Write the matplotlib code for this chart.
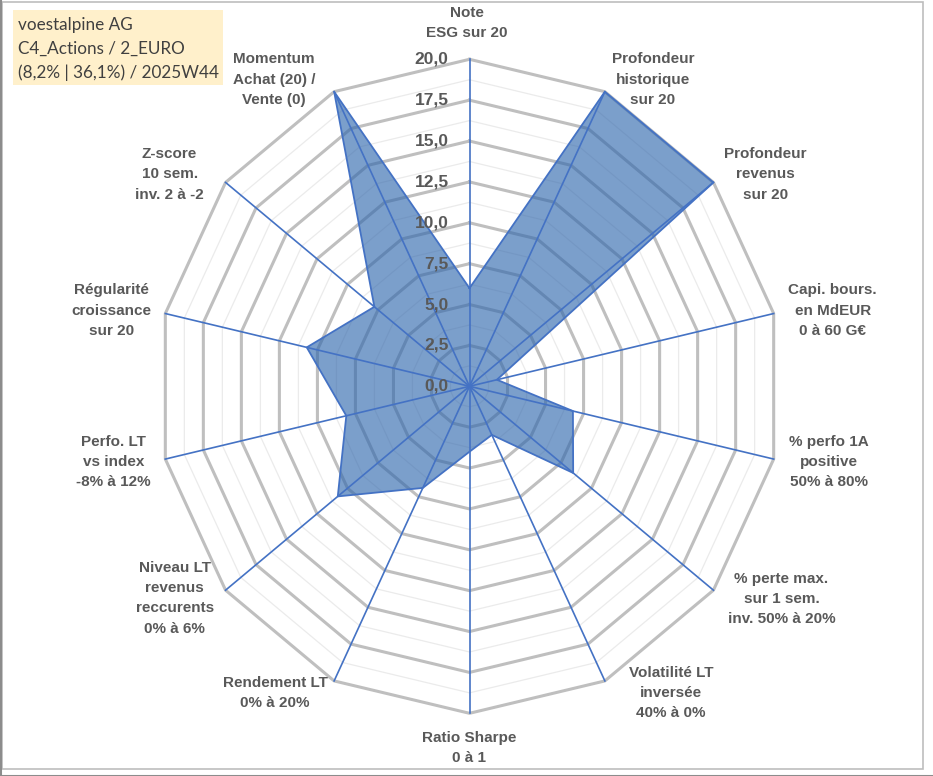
import numpy as np
import matplotlib
matplotlib.use('Agg')
import matplotlib.pyplot as plt
from matplotlib.patches import Rectangle
from matplotlib.lines import Line2D

# ---------------- data ----------------
categories = [
    "Note\nESG sur 20",
    "Profondeur\nhistorique\nsur 20",
    "Profondeur\nrevenus\nsur 20",
    "Capi. bours.\nen MdEUR\n0 à 60 G€",
    "% perfo 1A\npositive\n50% à 80%",
    "% perte max.\nsur 1 sem.\ninv. 50% à 20%",
    "Volatilité LT\ninversée\n40% à 0%",
    "Ratio Sharpe\n0 à 1",
    "Rendement LT\n0% à 20%",
    "Niveau LT\nrevenus\nreccurents\n0% à 6%",
    "Perfo. LT\nvs index\n-8% à 12%",
    "Régularité\ncroissance\nsur 20",
    "Z-score\n10 sem.\ninv. 2 à -2",
    "Momentum\nAchat (20) /\nVente (0)",
]
values = [6.0, 20.0, 20.0, 1.8, 6.8, 8.5, 3.3, 4.0, 6.9, 10.8, 8.1, 10.7, 7.8, 20.0]
tick_values = [0.0, 2.5, 5.0, 7.5, 10.0, 12.5, 15.0, 17.5, 20.0]
tick_labels = ["0,0", "2,5", "5,0", "7,5", "10,0", "12,5", "15,0", "17,5", "20,0"]
info_lines = ["voestalpine AG", "C4_Actions / 2_EURO", "(8,2% | 36,1%) / 2025W44"]

# ---------------- layout ----------------
W, H = 933, 776
fig = plt.figure(figsize=(W / 100, H / 100), dpi=100)
fig.patch.set_facecolor('white')

cx, cy, rx, ry = 469.5, 386.3, 312, 327
ax = fig.add_axes([(cx - rx) / W, (H - cy - ry) / H, 2 * rx / W, 2 * ry / H],
                  projection='polar')
ax.set_aspect('auto')
ax.set_theta_zero_location('N')
ax.set_theta_direction(-1)
ax.set_ylim(0, tick_values[-1])
ax.grid(False)
ax.spines['polar'].set_visible(False)
ax.set_xticks([])
ax.set_yticks([])
ax.patch.set_alpha(0)

n = len(categories)
theta = np.arange(n) * 2 * np.pi / n
closed_t = np.append(theta, theta[0])
rmax = tick_values[-1]

# minor rings
step = tick_values[1] - tick_values[0]
for r in np.arange(step / 2, rmax, step):
    ax.plot(closed_t, [r] * (n + 1), color='#ebebeb', lw=0.9, zorder=1, clip_on=False)
# major rings
for r in tick_values[1:]:
    ax.plot(closed_t, [r] * (n + 1), color='#bfbfbf', lw=2.2, zorder=2, clip_on=False)

# data polygon
vals_closed = np.append(values, values[0])
ax.fill(closed_t, vals_closed, facecolor='#2f67ad', alpha=0.63, zorder=3,
        edgecolor='none', clip_on=False)
ax.plot(closed_t, vals_closed, color='#4472c4', lw=1.3, zorder=4, clip_on=False)

# spokes
for t in theta:
    ax.plot([t, t], [0, rmax], color='#4472c4', lw=1.2, zorder=5, clip_on=False)

# radial tick labels
for r, lab in zip(tick_values, tick_labels):
    ax.annotate(lab, xy=(0, r), xytext=(-21, 0), textcoords='offset pixels',
                ha='right', va='center', fontsize=12.5, fontweight='bold',
                color='#595959', family='Liberation Sans', zorder=6,
                annotation_clip=False)

# category labels (pixel offsets from the outer vertex, y up)
label_offsets = [(-3, 36), (48, 12), (52, 8), (59, 3), (55, -3), (68, -9), (66, -12),
                 (0, -35), (-59, -12), (-51, -8), (-52, -3), (-54, 3), (-56, 8), (-60, 12)]
for t, lab, off in zip(theta, categories, label_offsets):
    ax.annotate(lab, xy=(t, rmax), xytext=off, textcoords='offset pixels',
                ha='center', va='center', fontsize=11, fontweight='bold',
                color='#595959', family='Liberation Sans', linespacing=1.57,
                annotation_clip=False)

# info box
def px(x, y):
    return x / W, 1 - y / H

bx0, by0, bx1, by1 = 13, 10, 223, 85
fig.patches.append(Rectangle(px(bx0, by1), (bx1 - bx0) / W, (by1 - by0) / H,
                             transform=fig.transFigure, facecolor='#fff0cb',
                             edgecolor='none', zorder=0))
for i, line in enumerate(info_lines):
    x, y = px(18, 25 + i * 23.7)
    fig.text(x, y, line, ha='left', va='center', fontsize=12.3, color='#404040',
             family='Lato')

# chart border
fig.patches.append(Rectangle(px(2, 769), 921 / W, 767 / H, transform=fig.transFigure,
                             facecolor='none', edgecolor='#bdbdbd', lw=1.2, zorder=0))
fig.lines.append(Line2D([0, 1], [0.5 / H, 0.5 / H], transform=fig.transFigure,
                        color='#8c8c8c', lw=1.5))
fig.lines.append(Line2D([0.5 / W, 0.5 / W], [0, 1], transform=fig.transFigure,
                        color='#8c8c8c', lw=1.5))

fig.savefig('out.png', dpi=100)
